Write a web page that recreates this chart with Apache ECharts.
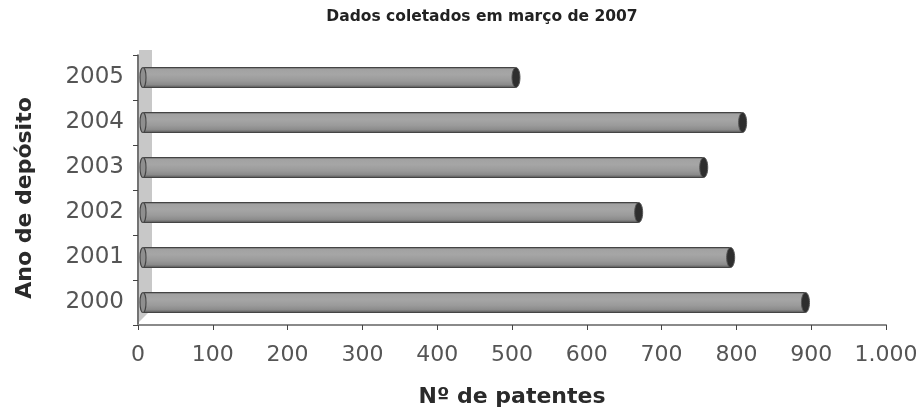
<!DOCTYPE html>
<html>
<head>
<meta charset="utf-8">
<script src="https://cdn.jsdelivr.net/npm/echarts@6/dist/echarts.min.js"></script>
<style>
  html, body { margin: 0; padding: 0; background: #fff; }
  #chart { width: 920px; height: 410px; }
</style>
</head>
<body>
<div id="chart"></div>
<script>
// Patent filings per year of deposit
const years = ['2000', '2001', '2002', '2003', '2004', '2005'];
const patents = [895, 795, 672, 759, 811, 508];
const xTicks = [0, 100, 200, 300, 400, 500, 600, 700, 800, 900, 1000];

const FONT = 'DejaVu Sans';
const chart = echarts.init(document.getElementById('chart'));

// Cylinder-style horizontal bar: shaded body, dark end cap, small start cap
function renderCylinder(params, api) {
  const v = api.value(0);
  const idx = api.value(1);
  const start = api.coord([0, idx]);
  const end = api.coord([v, idx]);
  const h = 20;
  const cy = start[1];
  const x0 = start[0] + 5;
  const x1 = end[0] - 2;
  const body = {
    type: 'rect',
    shape: { x: x0, y: cy - h / 2, width: x1 - x0, height: h, r: 2 },
    style: {
      fill: new echarts.graphic.LinearGradient(0, 0, 0, 1, [
        { offset: 0, color: '#5a5a5a' },
        { offset: 0.12, color: '#a2a2a2' },
        { offset: 0.35, color: '#a6a6a6' },
        { offset: 0.65, color: '#9a9a9a' },
        { offset: 0.85, color: '#8a8a8a' },
        { offset: 1, color: '#4a4a4a' }
      ]),
      stroke: '#444',
      lineWidth: 1.1
    }
  };
  const leftCap = {
    type: 'ellipse',
    shape: { cx: x0, cy: cy, rx: 3, ry: h / 2 },
    style: { fill: '#8f8f8f', stroke: '#444', lineWidth: 1.1 }
  };
  const rightCap = {
    type: 'ellipse',
    shape: { cx: x1, cy: cy, rx: 4, ry: h / 2 },
    style: { fill: '#2e2e2e', stroke: '#555', lineWidth: 1 }
  };
  return { type: 'group', children: [body, leftCap, rightCap] };
}

// Shaded side wall along the category axis
function renderWall(params, api) {
  const cs = params.coordSys;
  const x = cs.x + 1;
  const top = cs.y - 5;
  const bottom = cs.y + cs.height;
  return {
    type: 'polygon',
    shape: { points: [[x, top], [x + 13, top], [x + 13, bottom - 16], [x, bottom - 3]] },
    style: { fill: '#c8c8c8' },
    silent: true
  };
}

const option = {
  animation: false,
  backgroundColor: '#ffffff',
  title: {
    text: 'Dados coletados em março de 2007',
    left: 477,
    top: 4,
    textAlign: 'center',
    textStyle: { fontFamily: FONT, fontWeight: 'bold', fontSize: 15.5, color: '#222' }
  },
  grid: { left: 138, right: 34, top: 55, bottom: 85, containLabel: false, outerBoundsMode: 'none' },
  xAxis: {
    type: 'value',
    min: xTicks[0],
    max: xTicks[xTicks.length - 1],
    interval: xTicks[1] - xTicks[0],
    name: 'Nº de patentes',
    nameLocation: 'middle',
    nameGap: 61,
    nameTextStyle: { fontFamily: FONT, fontWeight: 'bold', fontSize: 22, color: '#2a2a2a' },
    axisLine: { show: true, lineStyle: { color: '#8a8a8a', width: 2 } },
    axisTick: { show: true, length: 5, lineStyle: { color: '#444' } },
    splitLine: { show: false },
    axisLabel: {
      fontFamily: FONT, fontSize: 22, color: '#555', margin: 19,
      formatter: v => v.toLocaleString('pt-BR')
    }
  },
  yAxis: {
    type: 'category',
    data: years,
    name: 'Ano de depósito',
    nameLocation: 'middle',
    nameRotate: 90,
    nameGap: 102,
    nameTextStyle: { fontFamily: FONT, fontWeight: 'bold', fontSize: 22, color: '#2a2a2a', padding: [0, 16, 0, 0] },
    axisLine: { show: true, lineStyle: { color: '#444', width: 1.5 } },
    axisTick: { show: true, inside: false, length: 5, lineStyle: { color: '#444' } },
    axisLabel: { fontFamily: FONT, fontSize: 23, color: '#555', margin: 14 }
  },
  series: [
    {
      type: 'custom',
      renderItem: renderWall,
      data: [[0, 0]],
      encode: { x: 0, y: 1 },
      z: 1,
      silent: true
    },
    {
      type: 'custom',
      renderItem: renderCylinder,
      data: patents.map((v, i) => [v, i]),
      encode: { x: 0, y: 1 },
      z: 2
    }
  ]
};

chart.setOption(option);
</script>
</body>
</html>
